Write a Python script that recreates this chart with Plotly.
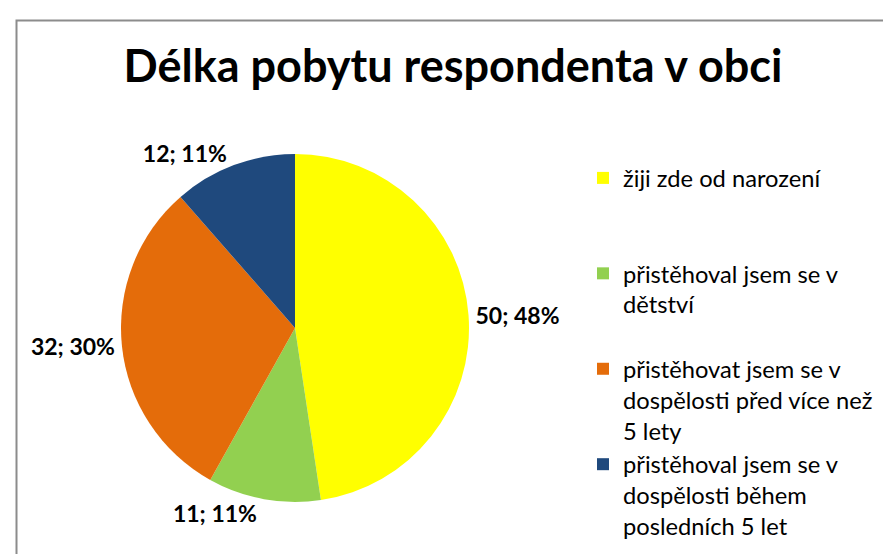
import plotly.graph_objects as go

categories = [
    "žiji zde od narození",
    "přistěhoval jsem se v<br>dětství",
    "přistěhovat jsem se v<br>dospělosti před více než<br>5 lety",
    "přistěhoval jsem se v<br>dospělosti během<br>posledních 5 let",
]
values = [50, 11, 32, 12]
percent_labels = ["48%", "11%", "30%", "11%"]
colors = ["#FFFF00", "#92D050", "#E46C0A", "#1F497D"]
title_text = "Délka pobytu respondenta v obci"

W, H = 891, 554
FONT = "Lato, 'Open Sans', sans-serif"

# pad legend names to equal line counts so entries are evenly spaced
max_lines = 3
names = []
for c in categories:
    n = c.count("<br>") + 1
    names.append(c + "<br> " * (max_lines - n))

cx, cy, r = 287, 320, 174

fig = go.Figure(go.Pie(
    labels=names,
    values=values,
    customdata=percent_labels,
    sort=False,
    direction="clockwise",
    rotation=0,
    marker=dict(colors=colors, line=dict(width=0)),
    texttemplate="%{value}; %{customdata}",
    textposition="outside",
    textfont=dict(family=FONT, size=23, color="#000000", weight="bold"),
    hoverinfo="label+value",
    domain=dict(x=[(cx - r) / W, (cx + r) / W], y=[(H - cy - r) / H, (H - cy + r) / H]),
    automargin=False,
))

fig.update_layout(
    width=W, height=H,
    margin=dict(l=0, r=0, t=0, b=0, autoexpand=False),
    paper_bgcolor="white",
    title=dict(text="<b>" + title_text + "</b>", x=445 / W, xanchor="center",
               y=1 - 58 / H, yanchor="middle",
               font=dict(family=FONT, size=45, color="#000000")),
    showlegend=True,
    legend=dict(x=575 / W, xanchor="left", y=1 - 148 / H, yanchor="top",
                valign="top", font=dict(family=FONT, size=23.7, color="#000000"),
                bgcolor="rgba(0,0,0,0)"),
    shapes=[dict(type="rect", xref="paper", yref="paper",
                 x0=8.5 / W, x1=1.05, y0=-0.05, y1=1 - 12.5 / H,
                 line=dict(color="#8C8C8C", width=2))],
)

fig.write_html("out.html")
